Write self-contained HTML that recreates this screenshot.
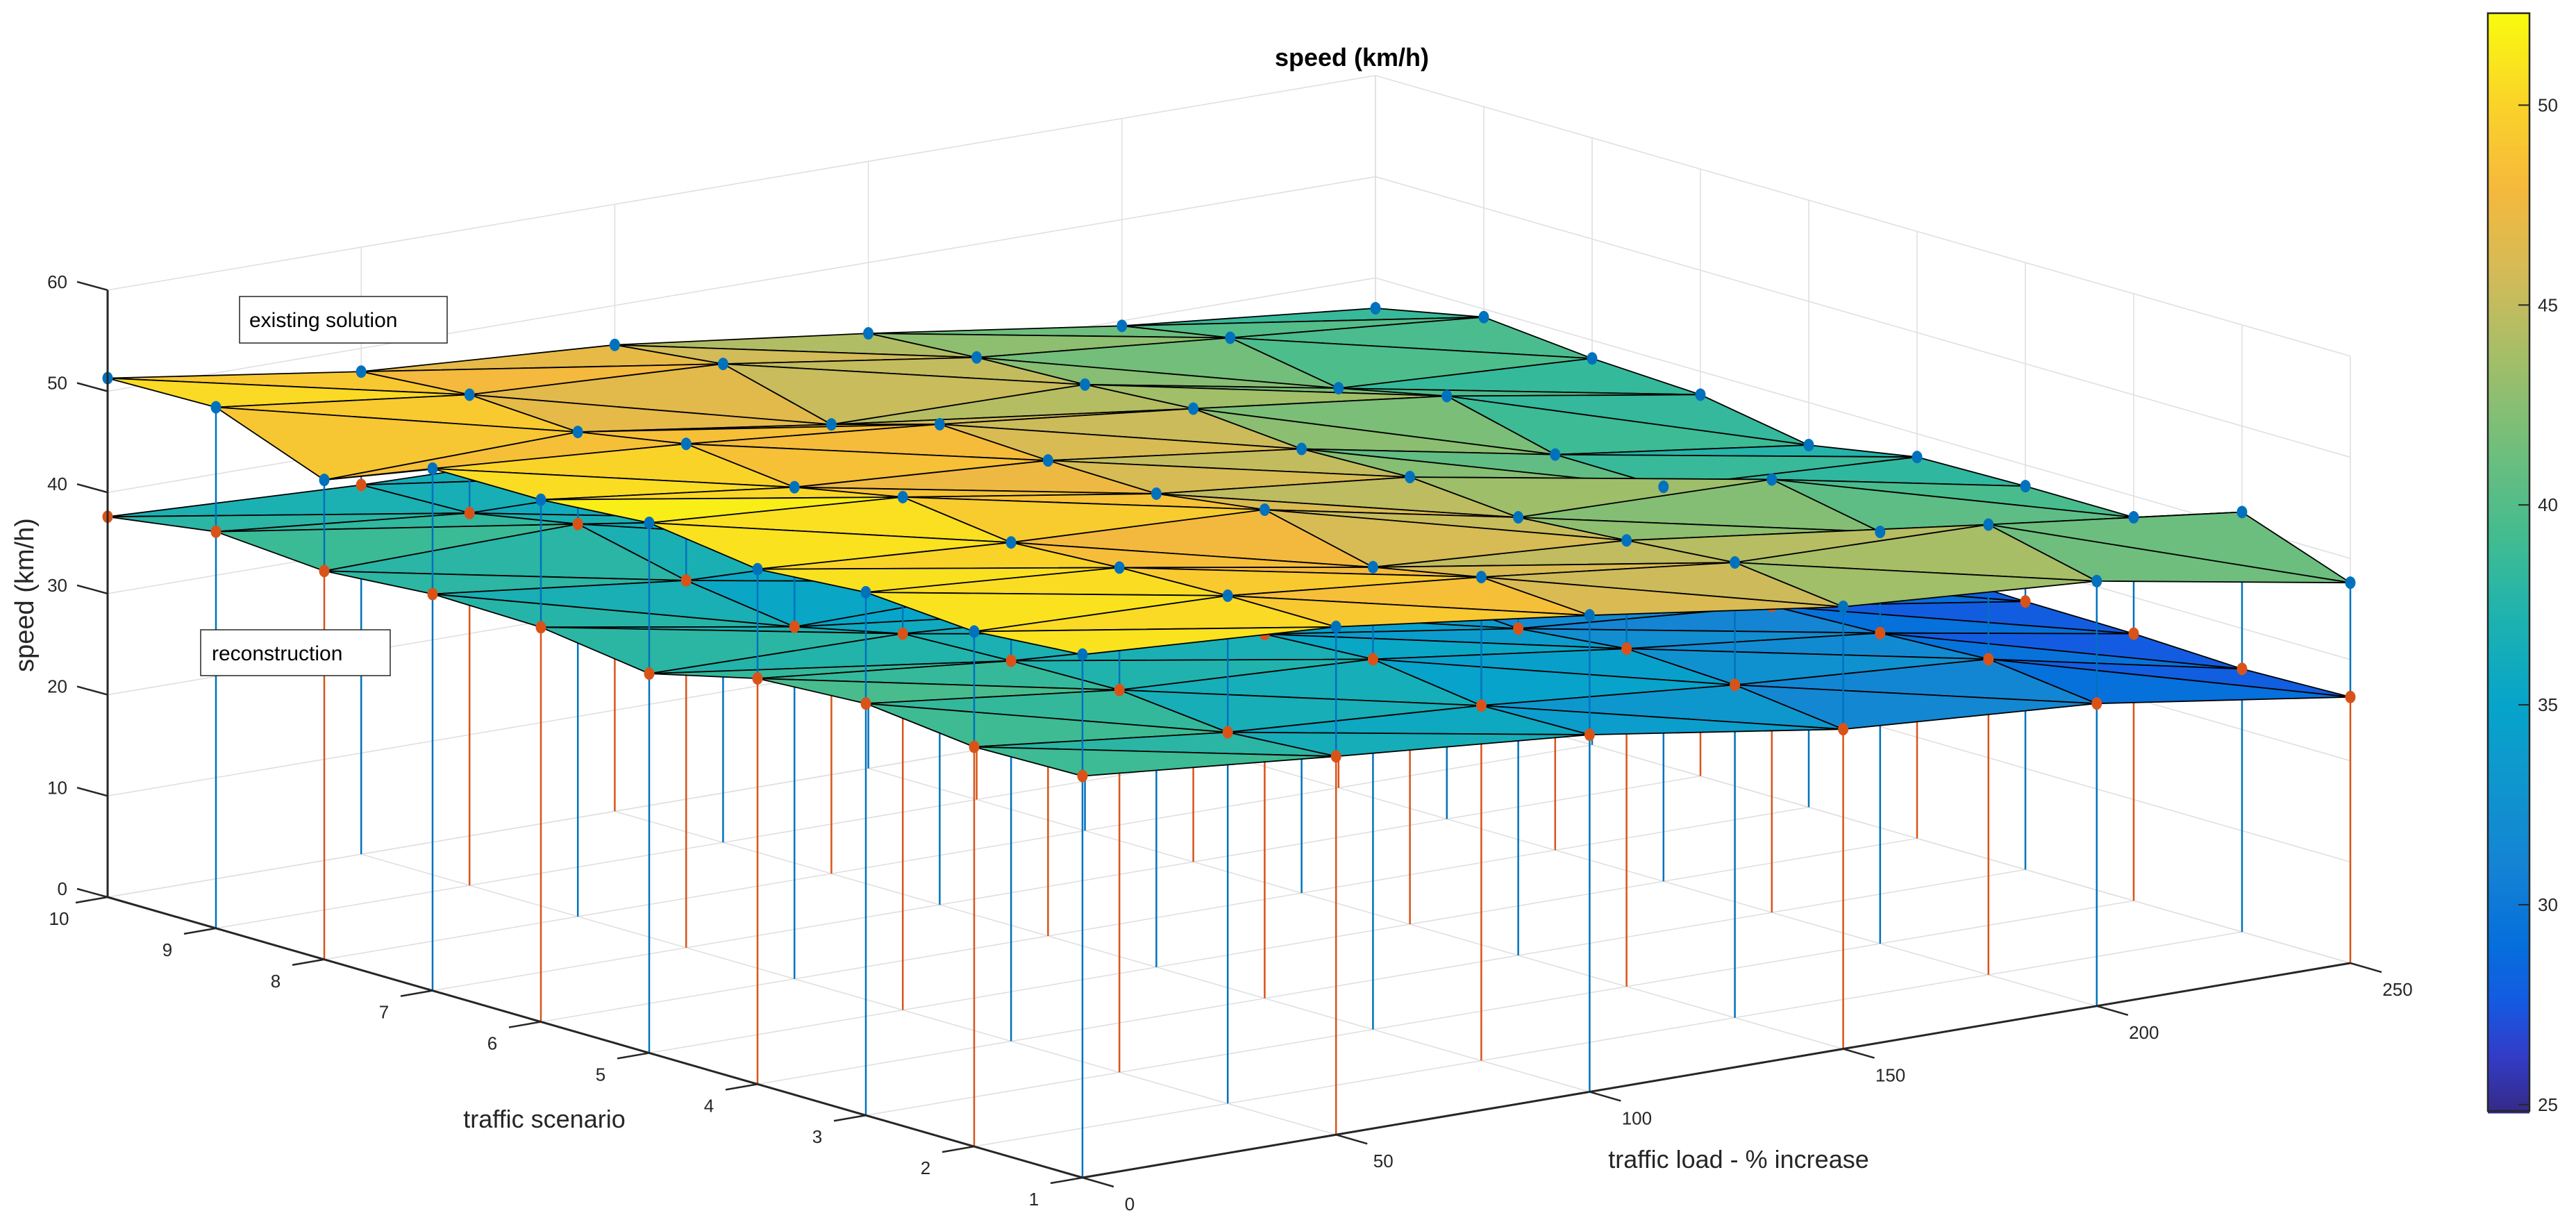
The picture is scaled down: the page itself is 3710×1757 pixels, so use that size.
<!DOCTYPE html>
<html><head><meta charset="utf-8"><style>
html,body{margin:0;padding:0;background:#fff;}
svg{display:block;font-family:"Liberation Sans",Arial,sans-serif;}
</style></head><body>
<svg id="chart" width="3710" height="1757" viewBox="0 0 3710 1757" xmlns="http://www.w3.org/2000/svg">
<rect width="3710" height="1757" fill="#fff"/>
<g id="walls"></g>
<g id="lowstems"></g>
<g id="botsurf"></g>
<g id="upstems"></g>
<g id="botmk"></g>
<g id="topsurf"></g>
<g id="topmk"></g>
<g id="axes"></g>
<text x="1947" y="95" font-size="36" font-weight="bold" text-anchor="middle" fill="#000">speed (km/h)</text>
<text x="0" y="0" font-size="38" text-anchor="middle" fill="#262626" transform="translate(48,857) rotate(-90)">speed (km/h)</text>
<text x="784" y="1624" font-size="36" text-anchor="middle" fill="#262626">traffic scenario</text>
<text x="2504" y="1682" font-size="36" text-anchor="middle" fill="#262626">traffic load - % increase</text>
<g>
<rect x="345" y="427" width="299" height="67" fill="#fff" stroke="#262626" stroke-width="1.5"/>
<text x="359" y="471" font-size="30" fill="#000">existing solution</text></g>
<g>
<rect x="289" y="907" width="273" height="66" fill="#fff" stroke="#262626" stroke-width="1.5"/>
<text x="305" y="951" font-size="30" fill="#000">reconstruction</text></g>
<g id="cbar"></g>
</svg>
<script>
const loads = [0, 50, 100, 150, 200, 250];
const scenarios = [1, 2, 3, 4, 5, 6, 7, 8, 9, 10];
// existing solution speeds: one row per load, columns = scenario 1..10
const existingL0   = [51.7, 50.9, 51.7, 50.9, 52.4, 51.6, 51.6, 47.4, 51.5, 51.3];
const existingL50  = [50.2, 50.2, 49.9, 49.3, 50.7, 48.6, 49.8, 47.9, 48.5, 47.7];
const existingL100 = [47.1, 47.8, 45.7, 48.3, 46.8, 47.0, 47.5, 44.4, 47.3, 46.1];
const existingL150 = [43.7, 45.0, 44.1, 43.3, 44.2, 43.9, 44.8, 44.1, 43.7, 43.0];
const existingL200 = [42.0, 44.5, 40.7, 42.8, 39.0, 39.1, 41.8, 39.5, 41.4, 39.5];
const existingL250 = [37.6, 41.5, 37.9, 37.9, 37.7, 35.8, 37.7, 38.2, 39.2, 37.0];
// reconstruction speeds
const reconL0   = [39.7, 39.5, 40.7, 40.1, 37.5, 39.0, 39.2, 38.4, 39.2, 37.6];
const reconL50  = [37.4, 36.7, 37.8, 37.6, 37.2, 34.8, 36.3, 38.8, 36.8, 36.5];
const reconL100 = [35.3, 35.1, 36.6, 36.0, 35.5, 35.0, 35.5, 35.0, 36.5, 36.0];
const reconL150 = [31.6, 32.9, 33.4, 32.3, 33.0, 33.0, 33.0, 33.5, 34.0, 34.0];
const reconL200 = [29.9, 31.2, 30.7, 30.3, 30.5, 30.5, 30.5, 31.0, 31.0, 31.5];
const reconL250 = [26.3, 26.0, 26.4, 26.5, 26.8, 27.0, 27.0, 27.5, 28.0, 28.0];
const zTicks = [0, 10, 20, 30, 40, 50, 60];
const loadTicks = [0, 50, 100, 150, 200, 250];
const cbarTicks = [25, 30, 35, 40, 45, 50];
const cMin = 24.84, cMax = 52.3;

const existing = [existingL0, existingL50, existingL100, existingL150, existingL200, existingL250];
const recon = [reconL0, reconL50, reconL100, reconL150, reconL200, reconL250];

const NS = 'http://www.w3.org/2000/svg';
function P(L, s, z) {
  const a = 10 - s;
  return [155 + 156 * a + 7.304 * L, 1292 + 44.889 * a - 1.236 * L - 14.57 * z];
}
function mk(tag, attrs, parent) {
  const e = document.createElementNS(NS, tag);
  for (const k in attrs) e.setAttribute(k, attrs[k]);
  parent.appendChild(e);
  return e;
}
const stops = [[0,53,42,135],[0.05,50,60,200],[0.10,20,90,225],[0.15,5,110,220],[0.22,20,130,212],[0.30,15,150,205],[0.37,6,164,202],[0.45,30,178,175],[0.52,65,188,145],[0.60,110,190,125],[0.68,160,190,105],[0.76,210,187,89],[0.84,245,185,60],[0.92,250,212,40],[1,249,251,14]];
function cmap(v) {
  let t = Math.max(0, Math.min(1, (v - cMin) / (cMax - cMin)));
  for (let i = 1; i < stops.length; i++) {
    if (t <= stops[i][0]) {
      const A = stops[i-1], B = stops[i], f = (t - A[0]) / (B[0] - A[0]);
      return 'rgb(' + [1,2,3].map(j => Math.round(A[j] + (B[j]-A[j]) * f)).join(',') + ')';
    }
  }
  return 'rgb(249,251,14)';
}
const walls = document.getElementById('walls');
const grid = '#dedede';
zTicks.forEach(z => { const p = P(0,10,z), q = P(250,10,z);
  const l = mk('line',{x1:p[0],y1:p[1],x2:q[0],y2:q[1],stroke:grid,'stroke-width':1.5},walls);
    });
loadTicks.forEach(L => { const p = P(L,10,0), q = P(L,10,60);
  const l = mk('line',{x1:p[0],y1:p[1],x2:q[0],y2:q[1],stroke:grid,'stroke-width':1.5},walls);
   
  const p2 = P(L,1,0);
  const f = mk('line',{x1:p[0],y1:p[1],x2:p2[0],y2:p2[1],stroke:grid,'stroke-width':1.5},walls);
    });
zTicks.forEach(z => { const p = P(250,10,z), q = P(250,1,z);
  const l = mk('line',{x1:p[0],y1:p[1],x2:q[0],y2:q[1],stroke:grid,'stroke-width':1.5},walls);
    });
scenarios.forEach(s => { const p = P(250,s,0), q = P(250,s,60);
  const l = mk('line',{x1:p[0],y1:p[1],x2:q[0],y2:q[1],stroke:grid,'stroke-width':1.5},walls);
   
  const p2 = P(0,s,0);
  const f = mk('line',{x1:p2[0],y1:p2[1],x2:p[0],y2:p[1],stroke:grid,'stroke-width':1.5},walls);
    });

// stems
const lowG = document.getElementById('lowstems'), upG = document.getElementById('upstems');
const BLUE = '#0072BD', ORANGE = '#D95319';
loads.forEach((L, k) => scenarios.forEach((s, i) => {
  const zb = existing[k][i], zr = recon[k][i];
  const f = P(L,s,0), pb = P(L,s,zb), pr = P(L,s,zr);
  const lowCol = ((i + k) % 2 === 0) ? BLUE : ORANGE;
  const o = mk('line',{x1:f[0],y1:f[1],x2:pr[0],y2:pr[1],stroke:lowCol,'stroke-width':2.5},lowG);
   
  const u = mk('line',{x1:pr[0],y1:pr[1],x2:pb[0],y2:pb[1],stroke:BLUE,'stroke-width':2.5},upG);
   
}));

function surface(data, g, name) {
  const tris = [];
  for (let k = 0; k < loads.length - 1; k++) for (let i = 0; i < scenarios.length - 1; i++) {
    const v = [[k,i],[k,i+1],[k+1,i+1],[k+1,i]];
    tris.push([v[0],v[1],v[3]]); tris.push([v[1],v[2],v[3]]);
  }
  const depth = t => t.reduce((acc, [k,i]) => acc + P(loads[k], scenarios[i], 0)[1], 0);
  tris.sort((A,B) => depth(A) - depth(B));
  tris.forEach(t => {
    const pts = t.map(([k,i]) => P(loads[k], scenarios[i], data[k][i]));
    const mean = t.reduce((acc,[k,i]) => acc + data[k][i], 0) / 3;
    const p = mk('polygon',{points:pts.map(q=>q[0].toFixed(1)+','+q[1].toFixed(1)).join(' '),fill:cmap(mean),stroke:'#000','stroke-width':1.8,'stroke-linejoin':'round'},g);
    
    
  });
}
surface(recon, document.getElementById('botsurf'), 'reconstruction');
surface(existing, document.getElementById('topsurf'), 'existing');

function markers(data, g, col, name) {
  loads.forEach((L,k) => scenarios.forEach((s,i) => {
    const p = P(L,s,data[k][i]);
    const c = mk('ellipse',{cx:p[0],cy:p[1],rx:7.5,ry:9,fill:col},g);
    
    
  }));
}
markers(recon, document.getElementById('botmk'), ORANGE, 'reconstruction');
markers(existing, document.getElementById('topmk'), BLUE, 'existing');

const ax = document.getElementById('axes');
const AX = '#262626';
function line(p,q,w,g,name){ const l = mk('line',{x1:p[0],y1:p[1],x2:q[0],y2:q[1],stroke:AX,'stroke-width':w},g);
    return l; }
line(P(0,10,0),P(0,10,60),3,ax,'z-axis-line');
line(P(0,10,0),P(0,1,0),3,ax,'scenario-axis-line');
line(P(0,1,0),P(250,1,0),3,ax,'load-axis-line');
zTicks.forEach(z => { const p = P(0,10,z);
  line(p,[p[0]-44,p[1]-12],2.5,ax,'z-tick');
  const t = mk('text',{x:p[0]-58,y:p[1]-3,'font-size':26,'text-anchor':'end',fill:AX},ax);
  t.textContent = z;   });
scenarios.forEach(s => { const p = P(0,s,0);
  line(p,[p[0]-46,p[1]+8],2.5,ax,'scenario-tick');
  const t = mk('text',{x:p[0]-70,y:p[1]+40,'font-size':26,'text-anchor':'middle',fill:AX},ax);
  t.textContent = s;   });
loadTicks.forEach(L => { const p = P(L,1,0);
  line(p,[p[0]+45,p[1]+13],2.5,ax,'load-tick');
  const t = mk('text',{x:p[0]+68,y:p[1]+47,'font-size':26,'text-anchor':'middle',fill:AX},ax);
  t.textContent = L;   });

const cb = document.getElementById('cbar');
const cbX = 3583, cbW = 60, cbTop = 19, cbBot = 1600;
const vy = v => cbBot - (v - cMin) / (cMax - cMin) * (cbBot - cbTop);
for (let y = cbTop; y < cbBot; y += 6) {
  const v = cMin + (cbBot - y - 3) / (cbBot - cbTop) * (cMax - cMin);
  const r = mk('rect',{x:cbX,y:y,width:cbW,height:6.5,fill:cmap(v)},cb);
   
}
const fr = mk('rect',{x:cbX,y:cbTop,width:cbW,height:cbBot-cbTop,fill:'none',stroke:AX,'stroke-width':2.5},cb);
 
cbarTicks.forEach(v => { const y = vy(v);
  line([cbX+cbW-16,y],[cbX+cbW,y],2,cb,'colorbar-tick');
  const t = mk('text',{x:cbX+cbW+12,y:y+9,'font-size':26,fill:AX},cb);
  t.textContent = v;   });
</script>
</body></html>
